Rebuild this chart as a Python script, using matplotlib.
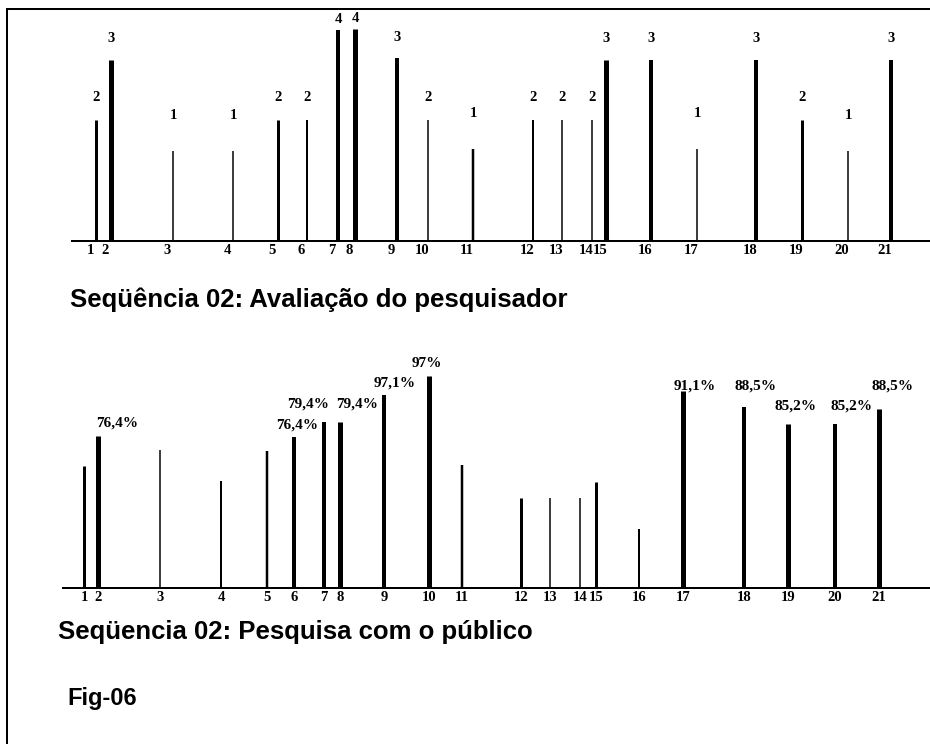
import matplotlib
matplotlib.use("Agg")
import matplotlib.pyplot as plt
from matplotlib.lines import Line2D
import matplotlib.transforms as mtransforms

# ---------------- data ----------------
items = [str(i) for i in range(1, 22)]

# Sequence 02 - researcher evaluation (score shown above each spike)
top_pos = [2.4, 3.9, 10.1, 16.1, 20.6, 23.5, 26.6, 28.3, 32.5, 35.6, 40.1,
           46.1, 49.0, 52.0, 53.4, 57.9, 62.5, 68.4, 73.0, 77.6, 81.9]
top_heights = [2.28, 3.42, 1.70, 1.70, 2.28, 2.28, 3.98, 4.00, 3.45, 2.28, 1.74,
               2.28, 2.28, 2.28, 3.42, 3.42, 1.74, 3.42, 2.28, 1.70, 3.42]
top_scores = [2, 3, 1, 1, 2, 2, 4, 4, 3, 2, 1, 2, 2, 2, 3, 3, 1, 3, 2, 1, 3]

# Sequence 02 - audience survey (percent)
bot_pos = [2.1, 3.5, 9.7, 15.8, 20.4, 23.1, 26.1, 27.7, 32.1, 36.6, 39.9,
           45.8, 48.7, 51.7, 53.3, 57.6, 62.0, 68.1, 72.5, 77.2, 81.6]
bot_values = [55.8, 69.5, 63.1, 48.9, 62.7, 69.1, 75.9, 75.9, 88.3, 97.0, 56.3,
              41.2, 41.2, 41.2, 48.5, 27.0, 90.1, 82.8, 75.0, 75.0, 81.9]
bot_labels = [None, "76,4%", None, None, None, "76,4%", "79,4%", "79,4%", "97,1%",
              "97%", None, None, None, None, None, None, "91,1%", "88,5%",
              "85,2%", "85,2%", "88,5%"]

title_top = "Seqüência 02: Avaliação do pesquisador"
title_bot = "Seqüencia 02: Pesquisa com o público"
fig_label = "Fig-06"

# ---------------- styles ----------------
px = 0.72  # points per pixel at dpi 100
top_lw_px = [3, 5, 1.5, 1.5, 3, 2, 4, 5, 4, 1.5, 2.5, 2, 1.5, 1.5, 5, 4, 1.5, 4, 3, 1.5, 4]
bot_lw_px = [3, 5, 1.5, 2, 2.5, 4, 4, 5, 4, 5, 2.5, 3, 1.5, 1.5, 3, 2, 5, 4, 5, 4, 5]
score_dy = {1: 35, 2: 23, 3: 21, 4: 10}
bot_nudge = {1: (19, 13), 5: (3, 12), 6: (-16, 18), 7: (17, 18), 8: (11, 12),
             9: (-2, 12), 16: (12, 5), 17: (11, 21), 18: (7, 18), 19: (16, 18),
             20: (13, 23)}

serif = ["Liberation Serif", "DejaVu Serif"]
sans = ["Liberation Sans", "DejaVu Sans"]

W, H = 930, 744
fig = plt.figure(figsize=(W / 100, H / 100), dpi=100)
fig.patch.set_facecolor("white")


def make_axes(left_px, base_px, height_px):
    ax = fig.add_axes([left_px / W, 1 - base_px / H, 1 - left_px / W, height_px / H])
    ax.set_facecolor("none")
    for s in ("top", "right", "left"):
        ax.spines[s].set_visible(False)
    ax.spines["bottom"].set_linewidth(2 * px)
    ax.set_yticks([])
    ax.tick_params(axis="x", length=0, pad=2)
    return ax


# ---- top chart ----
ax1 = make_axes(72, 241, 228)
ax1.set_xlim(0, 85.8)
ax1.set_ylim(0, 4.3)
ax1.vlines(top_pos, 0, top_heights, colors="black",
           linewidths=[w * px for w in top_lw_px])
for x, h, s in zip(top_pos, top_heights, top_scores):
    ax1.annotate(str(s), (x, h), xytext=(0, score_dy[s]), textcoords="offset pixels",
                 ha="center", va="center", fontsize=10.5, fontweight="bold",
                 family=serif, clip_on=False)
ax1.set_xticks(top_pos)
ax1.set_xticklabels(items, family=serif, fontsize=10.5, fontweight="bold")
shift = mtransforms.ScaledTranslation(-6 / 100, 0, fig.dpi_scale_trans)
for lab in ax1.get_xticklabels():
    lab.set_transform(lab.get_transform() + shift)

# ---- bottom chart ----
ax2 = make_axes(63, 588, 218.6)
ax2.set_xlim(0, 86.7)
ax2.set_ylim(0, 100)
ax2.vlines(bot_pos, 0, bot_values, colors="black",
           linewidths=[w * px for w in bot_lw_px])
for i, (x, v, lab) in enumerate(zip(bot_pos, bot_values, bot_labels)):
    if lab:
        dx, dy = bot_nudge.get(i, (0, 13))
        ax2.annotate(lab, (x, v), xytext=(dx, dy), textcoords="offset pixels",
                     ha="center", va="center", fontsize=11, fontweight="bold",
                     family=serif, clip_on=False)
ax2.set_xticks(bot_pos)
ax2.set_xticklabels(items, family=serif, fontsize=10.5, fontweight="bold")

# ---- texts ----
fig.text(70 / W, 1 - 300 / H, title_top, family=sans, fontsize=18.5,
         fontweight="bold", ha="left", va="center")
fig.text(58 / W, 1 - 632 / H, title_bot, family=sans, fontsize=18.5,
         fontweight="bold", ha="left", va="center")
fig.text(67 / W, 1 - 698 / H, fig_label, family=sans, fontsize=17,
         fontweight="bold", ha="left", va="center")

# ---- frame (top and left lines) ----
fig.add_artist(Line2D([7 / W, 1], [1 - 9 / H, 1 - 9 / H], transform=fig.transFigure,
                      color="black", lw=2 * px))
fig.add_artist(Line2D([7 / W, 7 / W], [0, 1 - 9 / H], transform=fig.transFigure,
                      color="black", lw=2 * px))

fig.savefig("out.png", dpi=100, facecolor="white")
